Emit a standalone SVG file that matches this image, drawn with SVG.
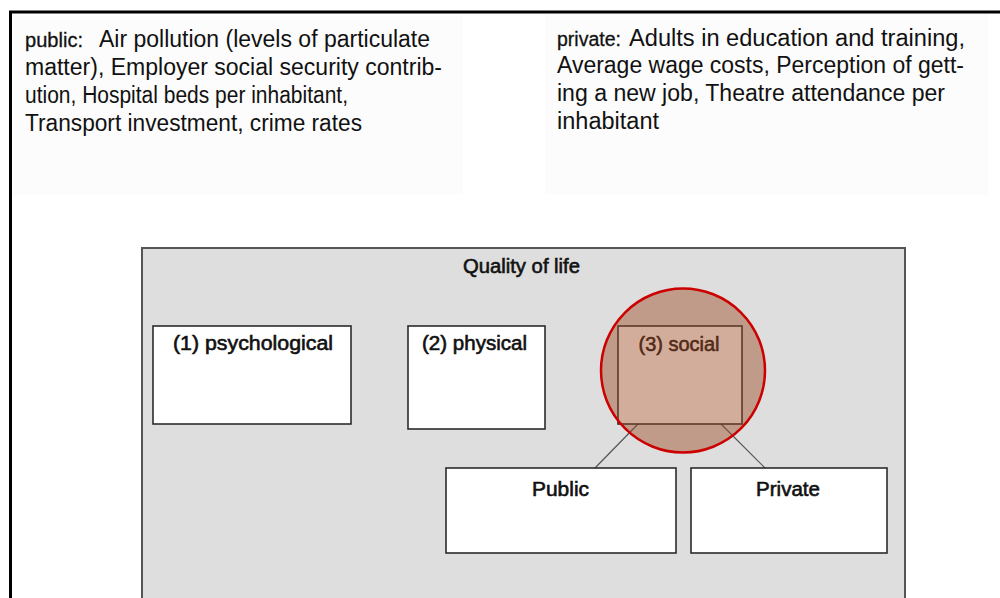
<svg xmlns="http://www.w3.org/2000/svg" width="1000" height="598" viewBox="0 0 1000 598">
  <style>
    .note { font-family: "Liberation Sans", Arial, sans-serif; font-size: 23px; fill: #111; }
    .tag { font-family: "Liberation Sans", Arial, sans-serif; font-size: 20px; fill: #111; stroke: #111; stroke-width: 0.3; }
    .label { font-family: "Liberation Sans", Arial, sans-serif; font-size: 20px; fill: #111; stroke: #111; stroke-width: 0.6; text-anchor: middle; }
    .box { fill: #ffffff; stroke: #2b2b2b; stroke-width: 1.6; }
    .link { stroke: #555; stroke-width: 1.2; fill: none; }
  </style>

  <rect x="0" y="0" width="1000" height="598" fill="#ffffff"/>

  <!-- outer frame -->
  <rect x="10.5" y="12" width="1000" height="600" fill="none" stroke="#000" stroke-width="3"/>

  <!-- indicator notes -->
  <g id="note-public">
    <rect x="13" y="16" width="450" height="179" fill="#fcfcfc"/>
    <text class="tag" x="25" y="47" textLength="58" lengthAdjust="spacingAndGlyphs">public:</text>
    <text class="note" x="99" y="47" textLength="331" lengthAdjust="spacingAndGlyphs">Air pollution (levels of particulate</text>
    <text class="note" x="25" y="75" textLength="417" lengthAdjust="spacingAndGlyphs">matter), Employer social security contrib-</text>
    <text class="note" x="25" y="103" textLength="323" lengthAdjust="spacingAndGlyphs">ution, Hospital beds per inhabitant,</text>
    <text class="note" x="25" y="131" textLength="337" lengthAdjust="spacingAndGlyphs">Transport investment, crime rates</text>
  </g>
  <g id="note-private">
    <rect x="545" y="14" width="443" height="181" fill="#fcfcfc"/>
    <text class="tag" x="557" y="46" textLength="64" lengthAdjust="spacingAndGlyphs">private:</text>
    <text class="note" x="629" y="46" textLength="336" lengthAdjust="spacingAndGlyphs">Adults in education and training,</text>
    <text class="note" x="557" y="73" textLength="407" lengthAdjust="spacingAndGlyphs">Average wage costs, Perception of gett-</text>
    <text class="note" x="557" y="101" textLength="388" lengthAdjust="spacingAndGlyphs">ing a new job, Theatre attendance per</text>
    <text class="note" x="557" y="129" textLength="102" lengthAdjust="spacingAndGlyphs">inhabitant</text>
  </g>

  <!-- container -->
  <g id="quality-of-life">
    <rect x="142" y="248" width="763" height="380" fill="#dedede" stroke="#555" stroke-width="2"/>
    <text class="label" x="521.5" y="273" textLength="117" lengthAdjust="spacingAndGlyphs">Quality of life</text>
  </g>

  <!-- connectors -->
  <g id="connectors">
    <line class="link" x1="638" y1="424" x2="595" y2="468"/>
    <line class="link" x1="721" y1="424" x2="765" y2="468"/>
  </g>

  <g id="psychological">
    <rect class="box" x="153" y="326" width="198" height="98"/>
    <text class="label" x="253" y="350" textLength="160" lengthAdjust="spacingAndGlyphs">(1) psychological</text>
  </g>
  <g id="physical">
    <rect class="box" x="408" y="326" width="137" height="103"/>
    <text class="label" x="474.5" y="350" textLength="105" lengthAdjust="spacingAndGlyphs">(2) physical</text>
  </g>
  <g id="social">
    <rect class="box" x="618" y="326" width="124" height="98"/>
    <text class="label" x="679" y="351" textLength="81" lengthAdjust="spacingAndGlyphs">(3) social</text>
  </g>
  <g id="public">
    <rect class="box" x="446" y="468" width="230" height="85"/>
    <text class="label" x="560.5" y="496" textLength="57" lengthAdjust="spacingAndGlyphs">Public</text>
  </g>
  <g id="private">
    <rect class="box" x="691" y="468" width="196" height="85"/>
    <text class="label" x="788" y="496" textLength="64" lengthAdjust="spacingAndGlyphs">Private</text>
  </g>

  <!-- highlight on the social dimension -->
  <g id="highlight">
    <circle cx="683" cy="370.5" r="82" fill="#9e4a22" fill-opacity="0.45" stroke="#cc0000" stroke-width="2.5"/>
  </g>
</svg>
